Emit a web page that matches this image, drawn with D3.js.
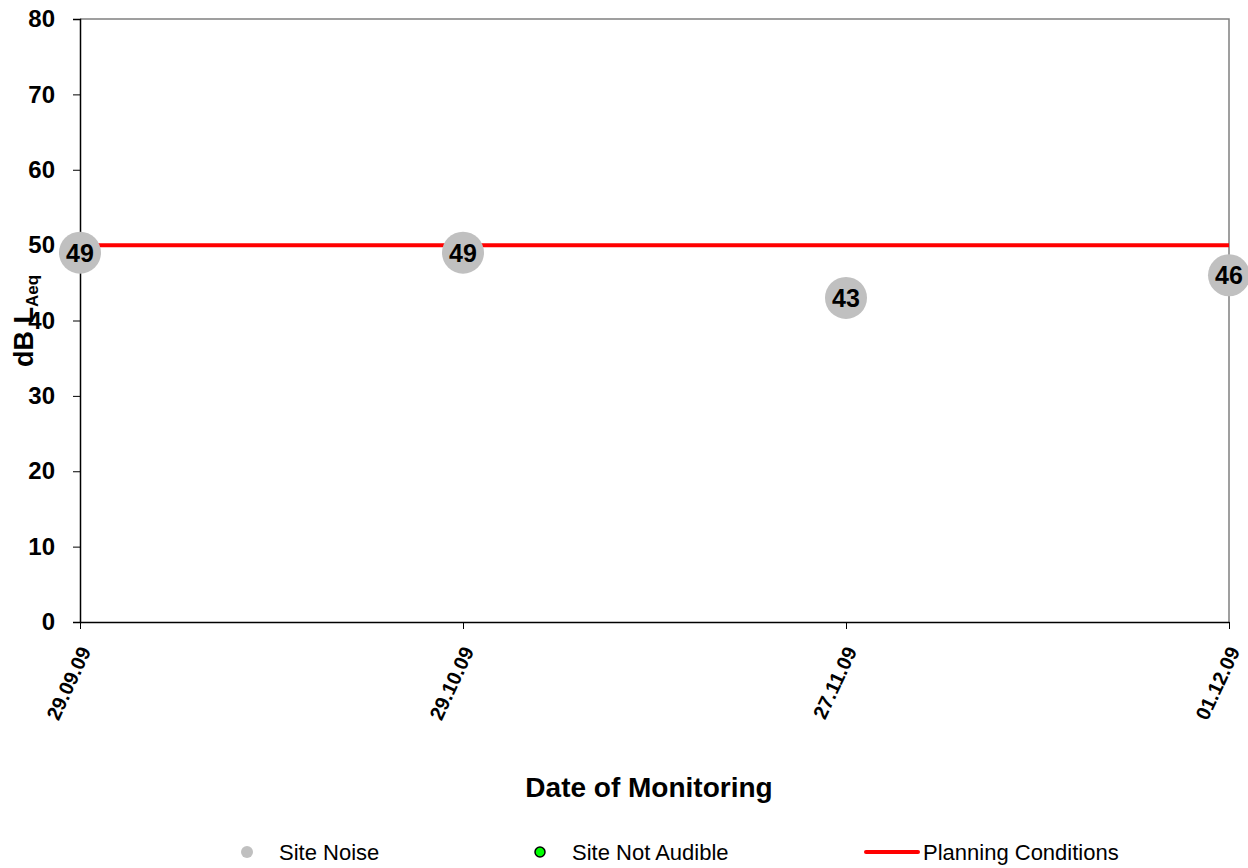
<!DOCTYPE html>
<html><head><meta charset="utf-8">
<script src="https://cdn.jsdelivr.net/npm/d3@7"></script>
<style>body{margin:0;background:#fff;font-family:"Liberation Sans",Arial,sans-serif}</style>
</head><body><svg id="c" width="1248" height="868"></svg>
<script>
const categories = ["29.09.09","29.10.09","27.11.09","01.12.09"];
const siteNoise = [49,49,43,46];
const planning = [50,50,50,50];
const yTicks = [0,10,20,30,40,50,60,70,80];

const svg = d3.select("#c").attr("font-family","Liberation Sans, Arial, sans-serif");
const L=80,R=1229,T=19,B=622;
const x = d3.scalePoint().domain(categories).range([L,R]);
const y = d3.scaleLinear().domain([0,80]).range([B,T]);

// frame top/right gray
svg.append("path").attr("d",`M${L},${T}H${R}V${B}`).attr("fill","none").attr("stroke","#808080").attr("stroke-width",1.5);

// y axis
const ya = svg.append("g").attr("transform",`translate(${L},0)`)
  .call(d3.axisLeft(y).tickValues(yTicks).tickSize(7).tickPadding(18));
ya.select(".domain").attr("stroke","#000").attr("stroke-width",1.5);
ya.selectAll(".tick line").attr("stroke","#000");
ya.selectAll("text").attr("font-family","Liberation Sans, Arial").attr("font-weight","bold").attr("font-size",24).attr("fill","#000");

// x axis
const xa = svg.append("g").attr("transform",`translate(0,${B})`)
  .call(d3.axisBottom(x).tickSize(7).tickSizeOuter(0));
xa.select(".domain").attr("stroke","#000").attr("stroke-width",1.5);
xa.selectAll(".tick line").attr("stroke","#000");
xa.selectAll("text").attr("font-family","Liberation Sans, Arial").attr("font-weight","bold").attr("font-size",20).attr("fill","#000")
  .attr("text-anchor","end").attr("dy",0).attr("y",0)
  .attr("transform","translate(11,29) rotate(-65)");

// planning line
svg.append("path").datum(planning)
  .attr("d", d3.line().x((d,i)=>x(categories[i])).y(d=>y(d)))
  .attr("fill","none").attr("stroke","#ff0000").attr("stroke-width",4);

// points
const pts = svg.append("g").selectAll("g").data(siteNoise).join("g")
  .attr("transform",(d,i)=>`translate(${x(categories[i])},${y(d)})`);
pts.append("circle").attr("r",21).attr("fill","#c0c0c0");
pts.append("text").text(d=>d).attr("text-anchor","middle").attr("dy","0.36em")
  .attr("font-weight","bold").attr("font-size",25).attr("fill","#000");

// axis titles
svg.append("text").attr("x",649).attr("y",797).attr("text-anchor","middle")
  .attr("font-weight","bold").attr("font-size",28).text("Date of Monitoring");
const yt = svg.append("text").attr("transform","translate(33,321) rotate(-90)").attr("text-anchor","middle")
  .attr("font-weight","bold").attr("font-size",27);
yt.append("tspan").text("dB L");
yt.append("tspan").attr("font-size",17).attr("dy",5).text("Aeq");

// legend
const lg = svg.append("g").attr("font-size",22);
lg.append("circle").attr("cx",247).attr("cy",852).attr("r",6).attr("fill","#c0c0c0");
lg.append("text").attr("x",279).attr("y",860).text("Site Noise");
lg.append("circle").attr("cx",540).attr("cy",852).attr("r",5).attr("fill","#00ff00").attr("stroke","#000").attr("stroke-width",1.5);
lg.append("text").attr("x",572).attr("y",860).text("Site Not Audible");
lg.append("line").attr("x1",866).attr("x2",918).attr("y1",852).attr("y2",852).attr("stroke","#ff0000").attr("stroke-width",4).attr("stroke-linecap","round");
lg.append("text").attr("x",923).attr("y",860).text("Planning Conditions");
</script></body></html>
